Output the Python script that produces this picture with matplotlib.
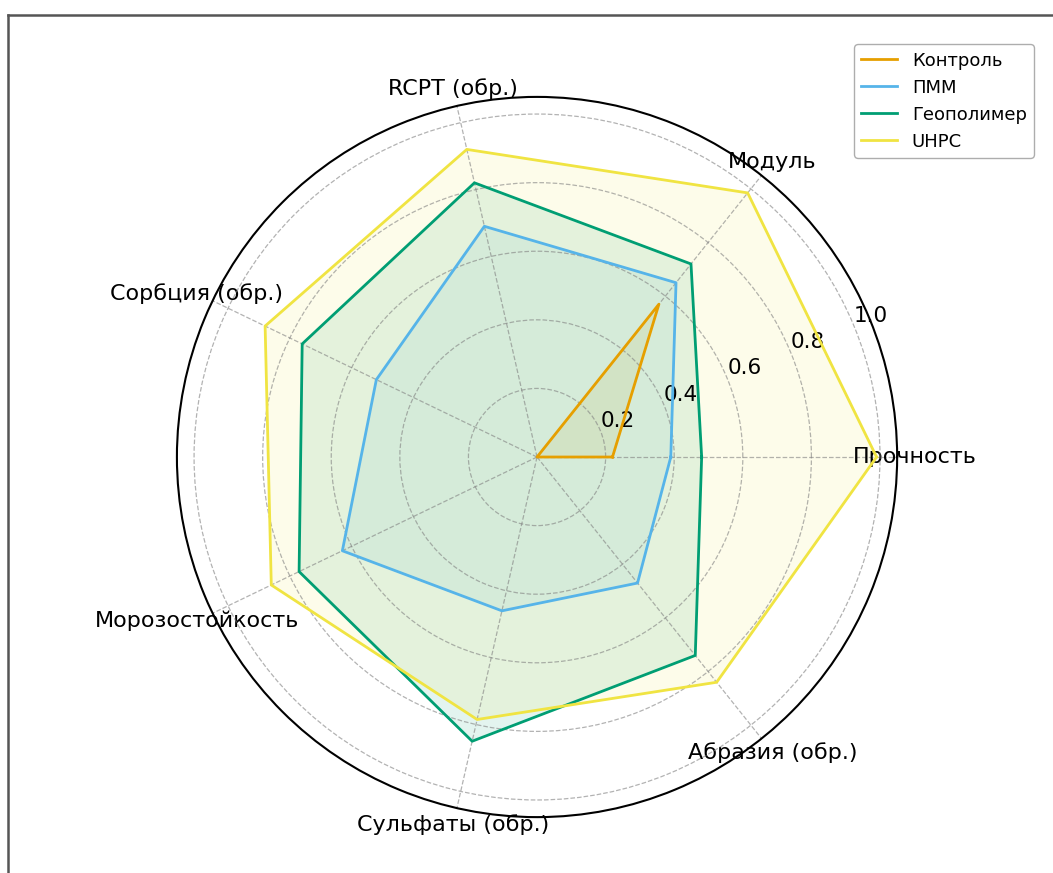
import numpy as np
import matplotlib
matplotlib.use("Agg")
import matplotlib.pyplot as plt
from matplotlib.lines import Line2D

categories = ["Прочность", "Модуль", "RCPT (обр.)", "Сорбция (обр.)",
              "Морозостойкость", "Сульфаты (обр.)", "Абразия (обр.)"]

control = [0.22, 0.57, 0.0, 0.0, 0.0, 0.0, 0.0]
pmm = [0.39, 0.65, 0.69, 0.52, 0.63, 0.46, 0.47]
geopolymer = [0.48, 0.72, 0.82, 0.76, 0.77, 0.85, 0.74]
uhpc = [0.99, 0.985, 0.92, 0.88, 0.86, 0.785, 0.84]

series_names = ["Контроль", "ПММ", "Геополимер", "UHPC"]
colors = ["#E69F00", "#56B4E9", "#009E73", "#F0E442"]

angles = np.linspace(0, 2 * np.pi, len(categories), endpoint=False)
angles_closed = np.concatenate([angles, angles[:1]])

fig = plt.figure(figsize=(10.53, 8.73), dpi=100)
ax = fig.add_axes([0.168, 0.064, 0.684, 0.825], polar=True)

for name, vals, c in zip(series_names, [control, pmm, geopolymer, uhpc], colors):
    v = np.concatenate([vals, vals[:1]])
    ax.plot(angles_closed, v, color=c, linewidth=2.0, label=name)
    ax.fill(angles_closed, v, color=c, alpha=0.11)

ax.set_ylim(0, 1.05)
ax.set_yticks([0.2, 0.4, 0.6, 0.8, 1.0])
ax.set_yticklabels(["0.2", "0.4", "0.6", "0.8", "1.0"], fontsize=15.5)
ax.set_xticks(angles)
ax.set_xticklabels(categories, fontsize=16)
ax.tick_params(axis="x", pad=2)
ax.grid(True, linestyle="--", color="gray", alpha=0.6, linewidth=0.9)
ax.spines["polar"].set_linewidth(1.5)

leg = ax.legend(loc="upper right", bbox_to_anchor=(1.19, 1.073), fontsize=13,
                borderaxespad=0)
leg.get_frame().set_edgecolor("0.6")

# border of the original screenshot (top and left only)
fig.add_artist(Line2D([8 / 1053, 1], [1 - 15 / 873, 1 - 15 / 873],
                      transform=fig.transFigure, color="#555555", linewidth=1.8))
fig.add_artist(Line2D([8 / 1053, 8 / 1053], [0, 1 - 15 / 873],
                      transform=fig.transFigure, color="#555555", linewidth=1.8))

fig.savefig("out.png", dpi=100)
